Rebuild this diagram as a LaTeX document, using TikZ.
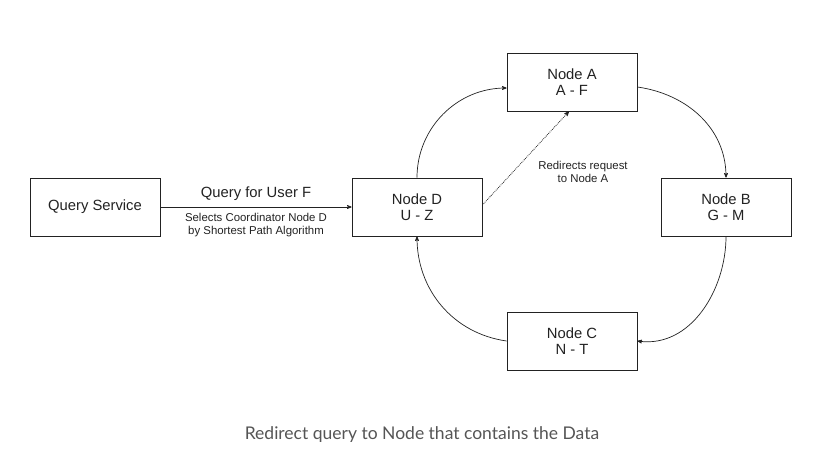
\documentclass[tikz,border=0pt]{standalone}
\usepackage{fontspec}
\setmainfont{Liberation Sans}
\newfontfamily\capfont{Lato}
\usetikzlibrary{arrows,positioning,calc}
\definecolor{inkgray}{HTML}{222222}
\definecolor{capgray}{HTML}{555555}

\begin{document}
\begin{tikzpicture}[->, >=stealth', x=1pt, y=-1pt, semithick]
\tikzset{
  dbox/.style={draw=inkgray, line width=0.8pt, text=inkgray, minimum width=130pt, minimum height=58pt, align=center, font=\fontsize{14.8}{16.5}\selectfont, inner sep=0pt},
  small/.style={text=inkgray, align=center, font=\fontsize{11.4}{12.5}\selectfont},
  link/.style={->, line width=0.7pt, draw=inkgray}
}
\useasboundingbox (0,0) rectangle (815,469);
\node[dbox] (qs) at (95,207) {Query Service};
\node[dbox] (nd) at (417,207) {Node D\\U - Z};
\node[dbox] (na) at (572,82) {Node A\\A - F};
\node[dbox] (nb) at (726,207) {Node B\\G - M};
\node[dbox] (nc) at (572,341) {Node C\\N - T};
\draw[link] (qs) -- node[above=3pt, font=\fontsize{14.8}{16.5}\selectfont, text=inkgray] {Query for User F} node[below=3pt, small] {Selects Coordinator Node D\\by Shortest Path Algorithm} (nd);
\draw[link] (nd.north) to[out=90, in=180] ([yshift=-6pt]na.west);
\draw[link] ([yshift=-5pt]na.east) to[out=-8, in=90] (nb.north);
\draw[link] (nb.south) to[out=-90, in=-8] (nc.east);
\draw[link] (nc.west) to[out=172, in=-90] (nd.south);
\draw[link, line width=0.8pt, densely dotted] ([yshift=2pt]nd.east) -- ([xshift=-3pt]na.south);
\node[small] (redir) at (583,172) {Redirects request\\to Node A};
\node[text=capgray, font=\capfont\fontsize{17.5}{19}\selectfont] (cap) at (422,435) {Redirect query to Node that contains the Data};
\end{tikzpicture}
\end{document}
